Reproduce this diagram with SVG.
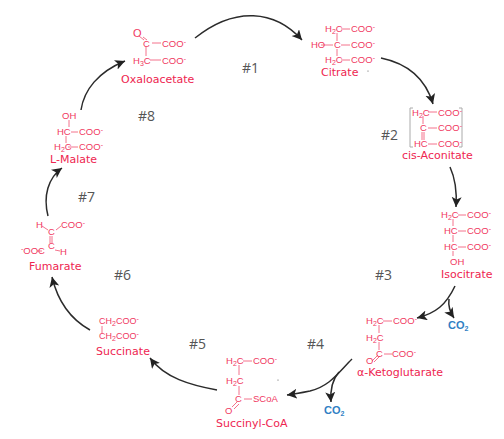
<svg xmlns="http://www.w3.org/2000/svg" width="504" height="439" viewBox="0 0 504 439">
<defs>
<marker id="ah" markerUnits="userSpaceOnUse" markerWidth="12" markerHeight="12" refX="10" refY="5" orient="auto"><path d="M0 0L10 5L0 10L2.5 5Z" fill="#222"/></marker>
<style>
.c{font:9.5px "Liberation Sans",Arial,sans-serif;fill:#f0385f}
.l{font:11px "DejaVu Sans",Verdana,sans-serif;fill:#ee2550}
.n{font:14px "Open Sans",sans-serif;fill:#555}
.b{stroke:#f4728c;stroke-width:1;fill:none}
.a{stroke:#2b2b2b;stroke-width:1.5;fill:none}
.co{font:bold 11px "Liberation Sans",Arial,sans-serif;fill:#2f7fc4}
.s{font-size:7px}
</style>
</defs>
<rect width="504" height="439" fill="#fff"/>
<g id="connectors">
<path class="a" marker-end="url(#ah)" d="M195 38C235 6 275 10 302 40"/>
<path class="a" marker-end="url(#ah)" d="M381 58C410 64 426 80 433 104"/>
<path class="a" marker-end="url(#ah)" d="M450 167C456 180 457 192 456 207"/>
<path class="a" marker-end="url(#ah)" d="M455 286C446 305 436 313 417 318"/>
<path class="a" marker-end="url(#ah)" d="M449 299C448 306 450 312 454 318"/>
<path class="a" marker-end="url(#ah)" d="M352 359C338 373 330 386 310 391C300 393 295 394 287 395"/>
<path class="a" marker-end="url(#ah)" d="M339 372C332 380 330 389 331 402"/>
<path class="a" marker-end="url(#ah)" d="M217 390C190 385 165 378 150 358"/>
<path class="a" marker-end="url(#ah)" d="M90 330C72 320 58 302 52 277"/>
<path class="a" marker-end="url(#ah)" d="M48 216C43 196 48 178 62 168"/>
<path class="a" marker-end="url(#ah)" d="M81 110C84 90 98 72 125 61"/>
</g>
<g id="n-labels">
<text class="n" x="242" y="73">#1</text>
<text class="n" x="381" y="140">#2</text>
<text class="n" x="375" y="280">#3</text>
<text class="n" x="307" y="349">#4</text>
<text class="n" x="189" y="349">#5</text>
<text class="n" x="114" y="280">#6</text>
<text class="n" x="78" y="202">#7</text>
<text class="n" x="138" y="121">#8</text>
</g>
<g id="oxaloacetate">
<path class="b" d="M139 36L144 40M143 37L147 40M152 43H161M146 47V56M150 60H161"/>
<text class="c" style="font-size:11px" x="133" y="37">O</text><text class="c" x="143" y="47">C</text><text class="c" x="162" y="47">COO<tspan class="s" dy="-3">-</tspan></text>
<text class="c" x="133" y="64">H<tspan class="s" dy="2">3</tspan><tspan dy="-2">C</tspan></text><text class="c" x="162" y="64">COO<tspan class="s" dy="-3">-</tspan></text>
<text class="l" x="121" y="83">Oxaloacetate</text>
</g>
<g id="citrate">
<path class="b" d="M341 29H350M337 33V41M321 45H333M341 45H350M337 49V56M341 60H350"/>
<text class="c" x="325" y="32">H<tspan class="s" dy="2">2</tspan><tspan dy="-2">C</tspan></text><text class="c" x="351" y="32">COO<tspan class="s" dy="-3">-</tspan></text>
<text class="c" x="311" y="48">HO</text><text class="c" x="334" y="48">C</text><text class="c" x="351" y="48">COO<tspan class="s" dy="-3">-</tspan></text>
<text class="c" x="325" y="63">H<tspan class="s" dy="2">2</tspan><tspan dy="-2">C</tspan></text><text class="c" x="351" y="63">COO<tspan class="s" dy="-3">-</tspan></text>
<text class="l" x="321" y="76">Citrate</text>
<circle cx="368" cy="71" r=".6" fill="#555"/>
</g>
<g id="cis-aconitate">
<path d="M413 108H410V147H413M459 108H462V147H459" fill="none" stroke="#aaa" stroke-width="1"/>
<path class="b" d="M428 112H437M423 116V124M428 128H437M422 132V140M424 132V140M428 144H437"/>
<text class="c" x="412" y="116">H<tspan class="s" dy="2">2</tspan><tspan dy="-2">C</tspan></text><text class="c" x="438" y="116">COO<tspan class="s" dy="-3">-</tspan></text>
<text class="c" x="420" y="131">C</text><text class="c" x="438" y="131">COO<tspan class="s" dy="-3">-</tspan></text>
<text class="c" x="414" y="147">HC</text><text class="c" x="438" y="147">COO<tspan class="s" dy="-3">-</tspan></text>
<text class="l" x="402" y="159">cis-Aconitate</text>
</g>
<g id="isocitrate">
<path class="b" d="M458 215H466M453 219V226M458 231H466M453 235V242M458 247H466M453 251V256"/>
<text class="c" x="441" y="218">H<tspan class="s" dy="2">2</tspan><tspan dy="-2">C</tspan></text><text class="c" x="467" y="218">COO<tspan class="s" dy="-3">-</tspan></text>
<text class="c" x="444" y="234">HC</text><text class="c" x="467" y="234">COO<tspan class="s" dy="-3">-</tspan></text>
<text class="c" x="444" y="250">HC</text><text class="c" x="467" y="250">COO<tspan class="s" dy="-3">-</tspan></text>
<text class="c" x="450" y="265">OH</text>
<text class="l" x="441" y="278">Isocitrate</text>
</g>
<g id="co2-1"><text class="co" x="448" y="329">CO<tspan class="s" dy="2">2</tspan></text></g>
<g id="ketoglutarate">
<path class="b" d="M383 321H392M379 325V333M379 342V350M378 355L372 361M380 356L374 362M384 354H392"/>
<text class="c" x="366" y="324">H<tspan class="s" dy="2">2</tspan><tspan dy="-2">C</tspan></text><text class="c" x="393" y="324">COO<tspan class="s" dy="-3">-</tspan></text>
<text class="c" x="366" y="341">H<tspan class="s" dy="2">2</tspan><tspan dy="-2">C</tspan></text>
<text class="c" x="376" y="357">C</text><text class="c" x="392" y="357">COO<tspan class="s" dy="-3">-</tspan></text>
<text class="c" x="366" y="364">O</text>
<text class="l" x="357" y="376">α-Ketoglutarate</text>
</g>
<g id="co2-2"><text class="co" x="324" y="414">CO<tspan class="s" dy="2">2</tspan></text></g>
<g id="succinyl-coa">
<path class="b" d="M243 361H252M239 365V375M239 386V395M244 399H252M237 402L232 407M239 404L234 409"/>
<text class="c" x="226" y="364">H<tspan class="s" dy="2">2</tspan><tspan dy="-2">C</tspan></text><text class="c" x="253" y="364">COO<tspan class="s" dy="-3">-</tspan></text>
<text class="c" x="226" y="384">H<tspan class="s" dy="2">2</tspan><tspan dy="-2">C</tspan></text>
<text class="c" x="235" y="402">C</text><text class="c" x="253" y="402">SCoA</text>
<text class="c" x="225" y="414">O</text>
<circle cx="278" cy="380" r=".6" fill="#555"/>
<text class="l" x="216" y="427">Succinyl-CoA</text>
</g>
<g id="succinate">
<path class="b" d="M102 326V333"/>
<text class="c" style="font-size:9px" x="99" y="324">CH<tspan class="s" dy="2">2</tspan><tspan dy="-2">COO</tspan><tspan class="s" dy="-3">-</tspan></text>
<text class="c" style="font-size:9px" x="99" y="339">CH<tspan class="s" dy="2">2</tspan><tspan dy="-2">COO</tspan><tspan class="s" dy="-3">-</tspan></text>
<text class="l" x="96" y="355">Succinate</text>
</g>
<g id="fumarate">
<path class="b" d="M42 226L48 230M56 230L61 226M50 236V243M52 236V243M55 250L60 251M37 251H42"/>
<text class="c" x="36" y="228">H</text><text class="c" x="48" y="235">C</text><text class="c" x="61" y="228">COO<tspan class="s" dy="-3">-</tspan></text>
<text class="c" x="48" y="249">C</text><text class="c" x="21" y="254"><tspan class="s" dy="-3">-</tspan><tspan dy="3">OOC</tspan></text><text class="c" x="60" y="255">H</text>
<text class="l" x="29" y="270">Fumarate</text>
</g>
<g id="l-malate">
<path class="b" d="M69 120V127M71 132H78M66 136V143M68 147H78"/>
<text class="c" x="62" y="119">OH</text>
<text class="c" x="57" y="135">HC</text><text class="c" x="79" y="135">COO<tspan class="s" dy="-3">-</tspan></text>
<text class="c" x="54" y="150">H<tspan class="s" dy="2">2</tspan><tspan dy="-2">C</tspan></text><text class="c" x="79" y="150">COO<tspan class="s" dy="-3">-</tspan></text>
<text class="l" x="50" y="163">L-Malate</text>
</g>
</svg>
